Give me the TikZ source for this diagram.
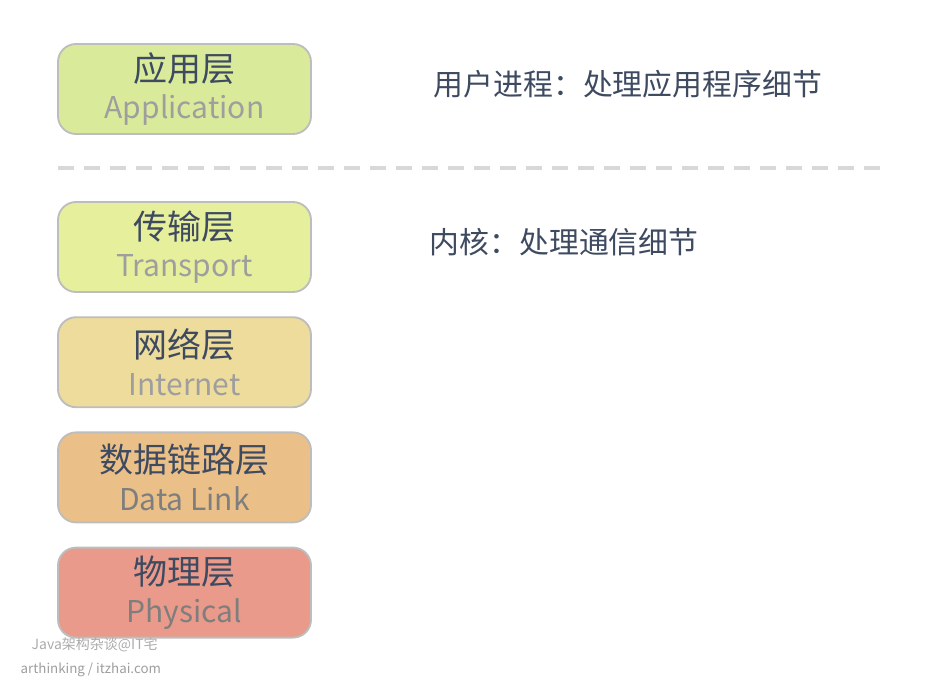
\documentclass[tikz,border=0pt]{standalone}
\usepackage{fontspec}
\usepackage{xcolor}
\usepackage{tikz}
\usetikzlibrary{positioning}
\setmainfont{Noto Sans CJK SC}
\definecolor{ink}{HTML}{3E4A60}
\definecolor{inkgray}{HTML}{9E9E9E}
\definecolor{inkdark}{HTML}{7E7E7E}
\definecolor{edge}{HTML}{BDBDBD}
\definecolor{appfill}{HTML}{D9EB9B}
\definecolor{tranfill}{HTML}{E6EF9C}
\definecolor{netfill}{HTML}{EEDC9C}
\definecolor{linkfill}{HTML}{EAC088}
\definecolor{physfill}{HTML}{E99A8A}
\definecolor{sepline}{HTML}{D8D8D8}
\definecolor{mark}{HTML}{ABABAB}
\tikzset{
  layerbox/.style={rectangle,rounded corners=13.5pt,draw=edge,line width=1.4pt,
    align=center,minimum width=189.75pt,minimum height=67.5pt,inner sep=0pt,
    font=\fontsize{24}{27}\selectfont},
  notetext/.style={font=\fontsize{22.4}{24}\selectfont,text=ink,anchor=west},
  marktext/.style={font=\fontsize{10.5}{12}\selectfont,text=mark,anchor=west},
}
\newcommand{\layertext}[3]{{\fontsize{25.5}{27}\selectfont\color{ink}#1}\\[1pt]{\fontsize{22.5}{27}\selectfont\color{#3}#2}}

\begin{document}
\begin{tikzpicture}[x=0.75pt,y=-0.75pt, node distance=17.5pt]
  \useasboundingbox (0,0) rectangle (948,682);

  \node[layerbox,fill=appfill] (app) at (184.5,89) {\layertext{应用层}{Application}{inkgray}};
  \node[layerbox,fill=tranfill] (tran) at (184.5,247) {\layertext{传输层}{Transport}{inkgray}};
  \node[layerbox,fill=netfill, below=of tran] (net) {\layertext{网络层}{Internet}{inkgray}};
  \node[layerbox,fill=linkfill, below=of net] (link) {\layertext{数据链路层}{Data Link}{inkdark}};
  \node[layerbox,fill=physfill, below=of link] (phys) {\layertext{物理层}{Physical}{inkdark}};

  \coordinate (sepl) at (58,168);
  \coordinate (sepr) at (886,168);
  \draw[sepline,line width=3pt,dash pattern=on 12pt off 7.5pt] (sepl) -- (sepr);

  \node[notetext] (user) at (429,84) {用户进程：处理应用程序细节};
  \node[notetext] (kern) at (425,242) {内核：处理通信细节};

  \node[marktext] (wm1) at (27,645) {Java架构杂谈@IT宅};
  \node[marktext,text=inkgray,font=\fontsize{10}{12}\selectfont] (wm2) at (16,670) {arthinking / itzhai.com};
\end{tikzpicture}
\end{document}
